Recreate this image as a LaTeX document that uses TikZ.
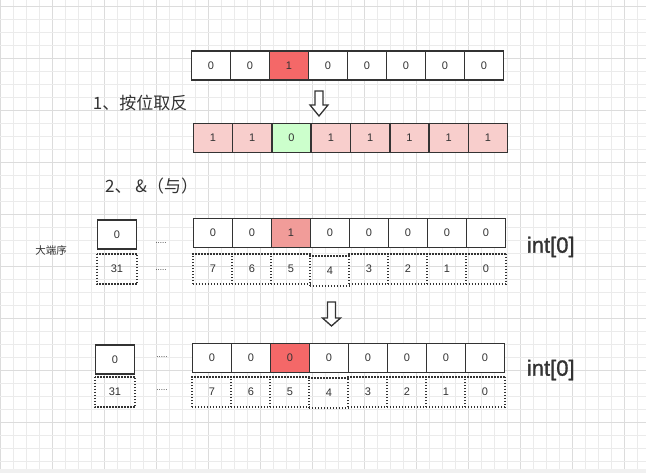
\documentclass[tikz,border=0pt]{standalone}
\usepackage{fontspec}
\setmainfont{Liberation Sans}
\newfontfamily\cjk{Noto Sans CJK SC}
\newfontfamily\intfont{Liberation Sans}[FakeBold=1.2]
\definecolor{cellline}{HTML}{333333}
\definecolor{txt}{HTML}{333333}
\definecolor{redA}{HTML}{F46868}
\definecolor{redB}{HTML}{F19C99}
\definecolor{pinkC}{HTML}{F8CECC}
\definecolor{greenC}{HTML}{CCFFCC}
\definecolor{gridminor}{HTML}{EBEBEB}
\definecolor{gridmajor}{HTML}{DCDCDC}
\begin{document}
\begin{tikzpicture}[x=1pt,y=-1pt,
  cell/.style={draw=cellline, line width=1.5pt, minimum width=39pt, minimum height=29pt,
    inner sep=0pt, font=\fontsize{11}{12}\selectfont, text=txt},
  dcell/.style={cell, draw=none},
  dotline/.style={draw=cellline, line width=1.6pt, dash pattern=on 1.5pt off 1.5pt},
  hollowarrow/.style={draw=cellline, fill=white, line width=1.3pt, line join=miter},
  title/.style={anchor=west, inner sep=0pt, font=\cjk\fontsize{17}{20}\selectfont, text=txt},
  intlabel/.style={anchor=west, inner sep=0pt, font=\intfont\fontsize{22}{26}\selectfont, text=txt},
  dots/.style={anchor=base, inner sep=0pt, font=\fontsize{8}{9}\selectfont, text=txt}
]
\useasboundingbox (0,0) rectangle (646,473);
% background grid
\fill[white] (0,0) rectangle (646,473);
\fill[black!6] (0,469) rectangle (646,473);
\foreach \k in {0,...,49}{
  \pgfmathtruncatemacro{\m}{mod(\k,4)}
  \ifnum\m=0
    \draw[gridmajor, line width=0.9pt] ({13*\k},0) -- ({13*\k},469);
  \else
    \draw[gridminor, line width=0.8pt] ({13*\k},0) -- ({13*\k},469);
  \fi
}
\foreach \k in {0,...,35}{
  \pgfmathtruncatemacro{\m}{mod(\k,4)}
  \ifnum\m=0
    \draw[gridmajor, line width=0.9pt] (0,{6.5+13*\k}) -- (646,{6.5+13*\k});
  \else
    \draw[gridminor, line width=0.8pt] (0,{6.5+13*\k}) -- (646,{6.5+13*\k});
  \fi
}

% row 1
\foreach \v/\f [count=\i] in {0/white,0/white,1/redA,0/white,0/white,0/white,0/white,0/white}
  \node[cell, fill=\f] (a\i) at ({211+(\i-1)*39}, 65.3) {\v};

% arrow 1
\draw[hollowarrow] (315,91) -- (323,91) -- (323,105) -- (328,105) -- (319,116)
  -- (310,105) -- (315,105) -- cycle;

% row 2
\foreach \v/\f [count=\i] in {1/pinkC,1/pinkC,0/greenC,1/pinkC,1/pinkC,1/pinkC,1/pinkC,1/pinkC}
  \node[cell, fill=\f, minimum width=39.3pt] (b\i) at ({212.95+(\i-1)*39.3}, 137.8) {\v};

\node[title] (t1) at (92.7,102.7) {1、按位取反};
\node[title] (t2) at (105,186) {2、 \&（与）};

% row 3
\node[anchor=center, inner sep=0pt, font=\cjk\fontsize{10.5}{12}\selectfont, text=txt] (big) at (51,250.7) {大端序};
\node[cell, fill=white] (l3) at (117,234.7) {0};
\node[dcell] (l3d) at (117,269) {31};
\draw[dotline] (l3d.north west) rectangle (l3d.south east);
\node[dots] (d3a) at (161,244) {.....};
\node[dots] (d3b) at (161,271) {.....};
\foreach \v/\f [count=\i] in {0/white,0/white,1/redB,0/white,0/white,0/white,0/white,0/white}
  \node[cell, fill=\f] (c\i) at ({213+(\i-1)*39}, 232.8) {\v};
\foreach \v/\dy [count=\i] in {7/0,6/0,5/0,4/2,3/0,2/0,1/0,0/0}{
  \node[dcell] (e\i) at ({213+(\i-1)*39}, 269+\dy) {\v};
  \draw[dotline] (e\i.south west) -- (e\i.north west) -- (e\i.north east);
  \draw[dotline] (e\i.south west) -- (e\i.south east);
}
\draw[dotline] (e8.north east) -- (e8.south east);
\node[intlabel] (int1) at (526.7,247) {int[0]};

% arrow 2
\draw[hollowarrow] (327.5,302) -- (335.5,302) -- (335.5,318) -- (340.5,318) -- (331.5,326)
  -- (322.5,318) -- (327.5,318) -- cycle;

% row 4
\node[cell, fill=white] (l4) at (115,359.7) {0};
\node[dcell] (l4d) at (115,392) {31};
\draw[dotline] (l4d.north west) rectangle (l4d.south east);
\node[dots] (d4a) at (162,357.5) {.....};
\node[dots] (d4b) at (162,391) {.....};
\foreach \v/\f [count=\i] in {0/white,0/white,0/redA,0/white,0/white,0/white,0/white,0/white}
  \node[cell, fill=\f] (f\i) at ({212+(\i-1)*39}, 357.8) {\v};
\foreach \v/\dy [count=\i] in {7/0,6/0,5/0,4/1,3/0,2/0,1/0,0/0}{
  \node[dcell] (g\i) at ({212+(\i-1)*39}, 392+\dy) {\v};
  \draw[dotline] (g\i.south west) -- (g\i.north west) -- (g\i.north east);
  \draw[dotline] (g\i.south west) -- (g\i.south east);
}
\draw[dotline] (g8.north east) -- (g8.south east);
\node[intlabel] (int2) at (526.7,370) {int[0]};
\end{tikzpicture}
\end{document}
